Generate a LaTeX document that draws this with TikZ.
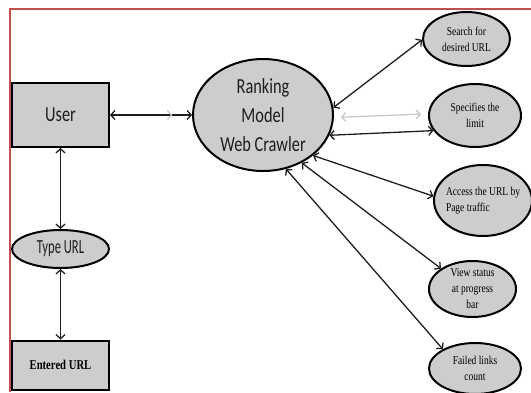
\documentclass[tikz,border=0pt]{standalone}
\usepackage{fontspec}
\setmainfont{Liberation Serif}
\newfontfamily\labfont[FakeStretch=0.76]{Carlito}
\newfontfamily\typefont[FakeStretch=0.63]{Carlito}
\newfontfamily\notefont[FakeStretch=0.79]{Liberation Serif}
\usetikzlibrary{arrows.meta,shapes.geometric,decorations.markings}
\definecolor{frame}{RGB}{192,80,77}
\definecolor{shade}{RGB}{205,205,205}
\definecolor{pale}{RGB}{200,200,200}
\definecolor{ink}{RGB}{30,30,30}

\begin{document}
\begin{tikzpicture}[x=1pt,y=-1pt,box/.style={rectangle,draw=black,fill=shade,line width=2pt,minimum width=97pt,minimum height=64pt,inner sep=0pt},oval/.style={ellipse,draw=black,fill=shade,line width=2pt,inner sep=-3pt,align=center,font=\notefont\fontsize{12}{16}\selectfont},arrow/.style={{Straight Barb[length=4pt,width=9pt]}-{Straight Barb[length=4pt,width=9pt]},line width=1.3pt,draw=ink}]
\useasboundingbox (0,0) rectangle (531,392);
\draw[frame,line width=2pt] (10,392) -- (10,9) -- (531,9);
% left column
\node[box,text=ink,font=\labfont\fontsize{21.5}{29}\selectfont] (user) at (60.5,115) {User};
\node[oval,inner sep=0pt,minimum width=97pt,minimum height=38pt,text=ink,font=\typefont\fontsize{20}{24}\selectfont] (type) at (60.5,249) {Type URL};
\node[box,minimum height=49pt,font=\notefont\bfseries\fontsize{13.5}{16}\selectfont] (entered) at (60.5,365) {Entered URL};
% crawler and its tasks
\node[oval,inner sep=0pt,minimum width=140pt,minimum height=112pt,text=ink,font=\labfont\fontsize{21.5}{29}\selectfont] (rank) at (263,115) {Ranking\\Model\\Web Crawler};
\node[oval,minimum width=87pt,minimum height=54pt] (search) at (466.5,39) {Search for\\desired URL};
\node[oval,minimum width=92pt,minimum height=63pt] (limit) at (475,115.5) {Specifies the\\limit};
\node[oval,minimum width=98pt,minimum height=71pt,align=left] (access) at (483,200.5) {Access the URL by\\Page traffic};
\node[oval,minimum width=87pt,minimum height=56pt] (status) at (472.5,289) {View status\\at progress\\bar};
\node[oval,minimum width=92pt,minimum height=51pt] (failed) at (475,368.5) {Failed links\\count};
\draw[arrow,postaction={decorate},decoration={markings,mark=at position 0.76 with {\arrow[pale]{Straight Barb[length=4pt,width=9pt]}}}] (user) -- (rank);
\draw[arrow] (user) -- (type);
\draw[arrow] (type) -- (entered);
\draw[arrow] (rank.6) -- (search.181);
\draw[arrow,draw=pale,shorten <=7pt,shorten >=7pt] (rank.-2) -- (limit.178);
\draw[arrow] (rank.-17) -- (limit.200);
\draw[arrow] (rank.-39) -- (access.175);
\draw[arrow] (rank.-51) -- (status.147);
\draw[arrow] (rank.-67) -- (failed.149);
\end{tikzpicture}
\end{document}
